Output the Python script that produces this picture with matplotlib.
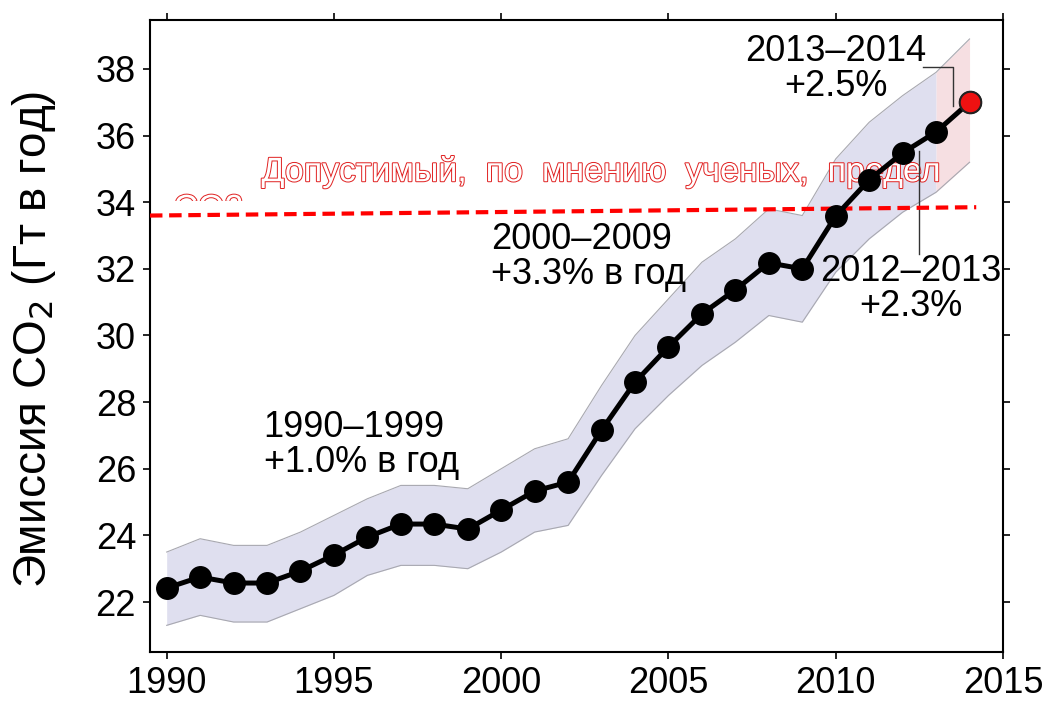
import matplotlib.pyplot as plt
import matplotlib.patheffects as pe
from matplotlib.patches import Rectangle

plt.rcParams['font.family'] = ['Liberation Sans', 'DejaVu Sans']

# годовые выбросы CO2, Гт
years = [1990, 1991, 1992, 1993, 1994, 1995, 1996, 1997, 1998, 1999,
         2000, 2001, 2002, 2003, 2004, 2005, 2006, 2007, 2008, 2009,
         2010, 2011, 2012, 2013, 2014]
emissions = [22.42, 22.75, 22.57, 22.57, 22.93, 23.41, 23.95, 24.34, 24.34, 24.19,
             24.76, 25.33, 25.60, 27.16, 28.60, 29.66, 30.65, 31.37, 32.18, 32.00,
             33.59, 34.67, 35.48, 36.11, 37.00]
# границы неопределенности
upper = [23.5, 23.9, 23.7, 23.7, 24.1, 24.6, 25.1, 25.5, 25.5, 25.4,
         26.0, 26.6, 26.9, 28.5, 30.0, 31.1, 32.2, 32.9, 33.8, 33.6,
         35.3, 36.4, 37.2, 37.9, 38.9]
lower = [21.3, 21.6, 21.4, 21.4, 21.8, 22.2, 22.8, 23.1, 23.1, 23.0,
         23.5, 24.1, 24.3, 25.8, 27.2, 28.2, 29.1, 29.8, 30.6, 30.4,
         31.9, 32.9, 33.7, 34.3, 35.2]
# допустимый предел
limit_years = [1989.5, 2014.2]
limit_vals = [33.6, 33.85]

xticks = [1990, 1995, 2000, 2005, 2010, 2015]
yticks = [22, 24, 26, 28, 30, 32, 34, 36, 38]

fig = plt.figure(figsize=(10.45, 7.01), dpi=100)
ax = fig.add_axes([0.1435, 0.0699, 0.8163, 0.9016])

# полоса неопределенности
ax.fill_between(years[:-1], lower[:-1], upper[:-1], color='#dfdfef', lw=0)
ax.fill_between(years[-2:], lower[-2:], upper[-2:], color='#f6dfe2', lw=0)
ax.plot(years, upper, color='#a8a8b0', lw=0.8)
ax.plot(years, lower, color='#a8a8b0', lw=0.8)

outline = [pe.withStroke(linewidth=1.4, foreground='#e02020')]
ax.text(2003.0, 34.9, 'Допустимый,  по  мнению  ученых,  предел', color='white',
        fontsize=24.5, ha='center', va='center', path_effects=outline, zorder=2)
# вторая строка подписи, почти целиком закрытая
ax.text(1990.2, 33.77, 'CO2', color='white', fontsize=24.5, ha='left',
        va='center', path_effects=outline, zorder=2)
ax.add_patch(Rectangle((1989.5, 32.0), 3.0, 2.05, color='white', lw=0, zorder=2.5))

# предел
ax.plot(limit_years, limit_vals, color='#ff0000', lw=3, ls=(0, (3, 1.6)), zorder=3)

ax.plot(years, emissions, color='black', lw=3.6, marker='o', ms=15.5,
        mec='black', mfc='black', zorder=4)
ax.plot(years[-1], emissions[-1], marker='o', ms=15.5, mfc='#ee1111',
        mec='#222222', mew=1.5, zorder=5)

ax.text(1992.9, 27.75, '1990–1999\n+1.0% в год', fontsize=26, ha='left', va='top',
        linespacing=1.0)
ax.text(1999.7, 33.4, '2000–2009\n+3.3% в год', fontsize=26, ha='left', va='top',
        linespacing=1.0)
ax.text(2010.0, 39.05, '2013–2014\n+2.5%', fontsize=26, ha='center', va='top',
        linespacing=1.0)
ax.text(2012.25, 32.45, '2012–2013\n+2.3%', fontsize=26, ha='center', va='top',
        linespacing=1.0)
ax.plot([2012.6, 2013.5, 2013.5], [38.05, 38.05, 36.9], color='#333333', lw=1)
ax.plot([2012.5, 2012.5], [35.55, 32.45], color='#333333', lw=1)

ax.set_xlim(1989.5, 2015)
ax.set_ylim(20.5, 39.47)
ax.set_xticks(xticks)
ax.set_yticks(yticks)
ax.tick_params(direction='out', length=5, width=1.2, labelsize=26,
               top=True, right=True, pad=5)
for s in ax.spines.values():
    s.set_linewidth(1.5)
ax.set_ylabel('Эмиссия CO$_2$ (Гт в год)', fontsize=33)
ax.yaxis.set_label_coords(-0.108, 0.494)

plt.savefig('out.png', dpi=100)
